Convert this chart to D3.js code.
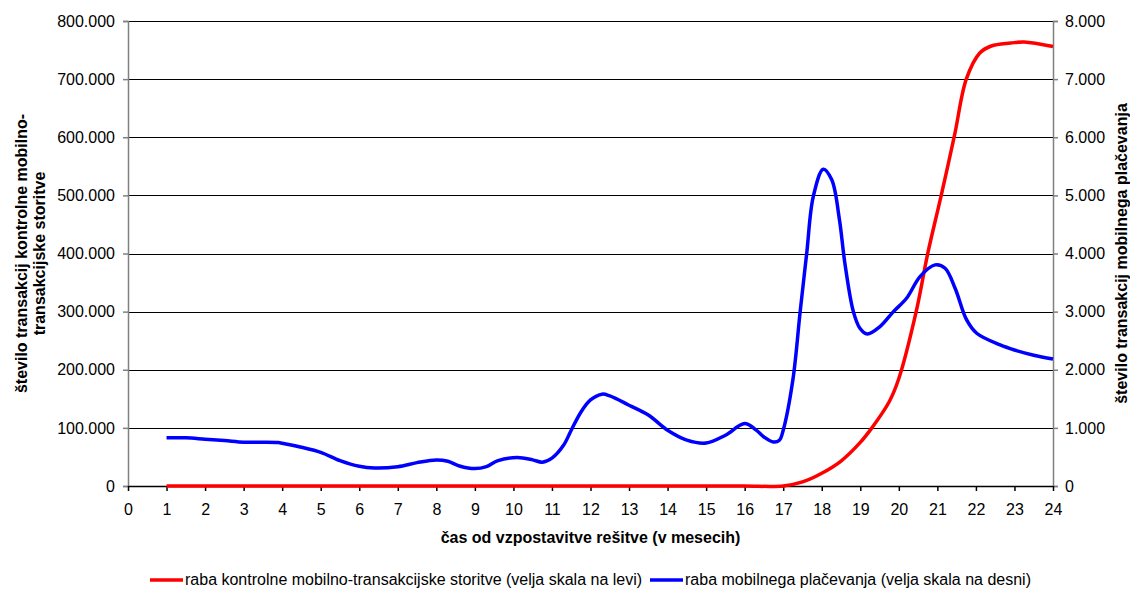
<!DOCTYPE html>
<html>
<head>
<meta charset="utf-8">
<script src="https://cdn.jsdelivr.net/npm/d3@7"></script>
<style>
  html, body { margin: 0; padding: 0; background: #fff; }
  svg { display: block; font-family: "Liberation Sans", Arial, sans-serif; }
</style>
</head>
<body>
<svg id="chart" width="1130" height="592"></svg>
<script>
// Months since launch (x axis ticks)
const monthTicks = d3.range(0, 25);
const leftTicks = d3.range(0, 800001, 100000);
const rightTicks = d3.range(0, 8001, 1000);

// Control mobile-transaction service usage (left scale)
const redMonths = [1, 2, 3, 4, 5, 6, 7, 8, 9, 10, 11, 12, 13, 14, 15, 16, 17,
  17.5, 18, 18.5, 19, 19.3, 19.75, 20, 20.45, 20.75, 21.1, 21.45, 21.75, 22.1, 22.4, 22.9, 23.25, 24];
const redValues = [0, 0, 0, 0, 0, 0, 0, 0, 0, 0, 0, 0, 0, 0, 0, 0, 0,
  7000, 22000, 43000, 75000, 100000, 145000, 185000, 300000, 400000, 500000, 605000, 700000, 745000, 757000, 762000, 764000, 756000];

// Mobile payment usage (right scale)
const blueMonths = [1, 1.5, 2, 2.5, 3, 3.5, 3.9, 4, 4.5, 5, 5.5, 6, 6.4, 7, 7.5, 8, 8.3, 8.6, 9, 9.3, 9.6,
  10.1, 10.5, 10.75, 11, 11.3, 11.5, 11.75, 12, 12.3, 12.5, 13, 13.5, 14, 14.5, 15, 15.5, 16, 16.3, 16.5,
  16.75, 16.9, 17, 17.25, 17.44, 17.61, 17.78, 18.04, 18.26, 18.46, 18.6, 18.82, 18.99, 19.18, 19.51,
  19.86, 20.2, 20.55, 20.94, 21.2, 21.46, 21.76, 22.02, 22.63, 23, 23.5, 24];
const blueValues = [828, 828, 805, 782, 753, 753, 747, 736, 667, 580, 437, 339, 310, 333, 402, 448, 425, 345, 299, 333, 437,
  490, 450, 410, 480, 700, 960, 1270, 1480, 1580, 1550, 1390, 1220, 960, 790, 740, 873, 1075, 960, 844,
  757, 786, 960, 1824, 3000, 4005, 4980, 5450, 5267, 4578, 3833, 3000, 2714, 2616, 2742,
  3000, 3230, 3603, 3804, 3747, 3403, 2857, 2628, 2427, 2340, 2250, 2185];

const legendLabels = [
  "raba kontrolne mobilno-transakcijske storitve (velja skala na levi)",
  "raba mobilnega plačevanja (velja skala na desni)"
];
const seriesColors = ["#ff0000", "#0000ff"];

const svg = d3.select("#chart");
const plotLeft = 128, plotRight = 1053, plotTop = 21, plotBottom = 486;

const x = d3.scaleLinear().domain([0, 24]).range([plotLeft, plotRight]);
const yL = d3.scaleLinear().domain([0, 800000]).range([plotBottom, plotTop]);
const yR = d3.scaleLinear().domain([0, 8000]).range([plotBottom, plotTop]);

const loc = d3.formatLocale({ decimal: ",", thousands: ".", grouping: [3], currency: ["", ""] });
const fmt = loc.format(",.0f");

// horizontal gridlines
svg.append("g")
  .selectAll("line")
  .data(leftTicks.filter(d => d > 0))
  .join("line")
  .attr("x1", plotLeft).attr("x2", plotRight)
  .attr("y1", d => Math.round(yL(d)) + 0.5).attr("y2", d => Math.round(yL(d)) + 0.5)
  .attr("stroke", "#000").attr("stroke-width", 1);

const tickFont = g => g.selectAll("text")
  .attr("font-size", 16).attr("fill", "#000")
  .attr("font-family", "'Liberation Sans', Arial, sans-serif");

// left axis
const gL = svg.append("g").attr("transform", `translate(${plotLeft},0)`)
  .call(d3.axisLeft(yL).tickValues(leftTicks).tickFormat(fmt).tickSize(5).tickPadding(8));
gL.select(".domain").attr("stroke", "#808080").attr("stroke-width", 1.5);
gL.selectAll(".tick line").attr("stroke", "#808080").attr("stroke-width", 1.5);
gL.call(tickFont);

// right axis
const gR = svg.append("g").attr("transform", `translate(${plotRight},0)`)
  .call(d3.axisRight(yR).tickValues(rightTicks).tickFormat(fmt).tickSize(5).tickPadding(7));
gR.select(".domain").attr("stroke", "#808080").attr("stroke-width", 1.5);
gR.selectAll(".tick line").attr("stroke", "#808080").attr("stroke-width", 1.5);
gR.call(tickFont);

// bottom axis
const gB = svg.append("g").attr("transform", `translate(0,${plotBottom})`)
  .call(d3.axisBottom(x).tickValues(monthTicks).tickFormat(d3.format("d")).tickSize(5).tickPadding(13).tickSizeOuter(0));
gB.select(".domain").attr("stroke", "#000").attr("stroke-width", 1.5);
gB.selectAll(".tick line").attr("stroke", "#000").attr("stroke-width", 1.5);
gB.call(tickFont);

// series lines
const lineL = d3.line().x(d => x(d[0])).y(d => yL(d[1])).curve(d3.curveCatmullRom.alpha(0.5));
const lineR = d3.line().x(d => x(d[0])).y(d => yR(d[1])).curve(d3.curveCatmullRom.alpha(0.5));

svg.append("path")
  .datum(redMonths.map((m, i) => [m, redValues[i]]))
  .attr("d", lineL).attr("fill", "none")
  .attr("stroke", seriesColors[0]).attr("stroke-width", 3.5).attr("stroke-linejoin", "round");

svg.append("path")
  .datum(blueMonths.map((m, i) => [m, blueValues[i]]))
  .attr("d", lineR).attr("fill", "none")
  .attr("stroke", seriesColors[1]).attr("stroke-width", 3.5).attr("stroke-linejoin", "round");

// axis titles
svg.append("text")
  .attr("x", (plotLeft + plotRight) / 2).attr("y", 543)
  .attr("text-anchor", "middle").attr("font-size", 16).attr("font-weight", "bold")
  .text("čas od vzpostavitve rešitve (v mesecih)");

const leftTitle = svg.append("text")
  .attr("transform", `translate(27,${(plotTop + plotBottom) / 2}) rotate(-90)`)
  .attr("text-anchor", "middle").attr("font-size", 16).attr("font-weight", "bold");
leftTitle.append("tspan").attr("x", 0).attr("dy", 0).text("število transakcij kontrolne mobilno-");
leftTitle.append("tspan").attr("x", 0).attr("dy", 18).text("transakcijske storitve");

svg.append("text")
  .attr("transform", `translate(1127,${(plotTop + plotBottom) / 2}) rotate(-90)`)
  .attr("text-anchor", "middle").attr("font-size", 16).attr("font-weight", "bold")
  .text("število transakcij mobilnega plačevanja");

// legend
const legend = svg.append("g");
const items = [{ x: 150, i: 0 }, { x: 650, i: 1 }];
items.forEach(it => {
  legend.append("line")
    .attr("x1", it.x).attr("x2", it.x + 33).attr("y1", 580).attr("y2", 580)
    .attr("stroke", seriesColors[it.i]).attr("stroke-width", 3.5);
  legend.append("text")
    .attr("x", it.x + 35).attr("y", 585)
    .attr("font-size", 16)
    .text(legendLabels[it.i]);
});
</script>
</body>
</html>
